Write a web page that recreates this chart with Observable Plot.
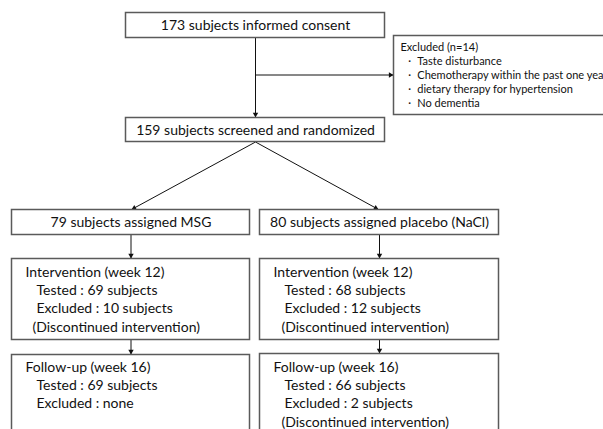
<!DOCTYPE html>
<html>
<head>
<meta charset="utf-8">
<script src="https://cdn.jsdelivr.net/npm/d3@7"></script>
<script src="https://cdn.jsdelivr.net/npm/@observablehq/plot@0.6"></script>
<style>
  html, body { margin: 0; padding: 0; background: #fff; overflow: hidden; }
  #chart svg { display: block; }
</style>
</head>
<body>
<div id="chart"></div>
<script>
// ---- content (labels) ----
const headerLabels = [
  "173 subjects informed consent",
  "159 subjects screened and randomized",
  "79 subjects assigned MSG",
  "80 subjects assigned placebo (NaCl)"
];
const excludedLabels = [
  "Excluded (n=14)",
  "・ Taste disturbance",
  "・ Chemotherapy within the past one year",
  "・ dietary therapy for hypertension",
  "・ No dementia"
];
const msgWeek12 = ["Intervention (week 12)", "Tested : 69 subjects", "Excluded : 10 subjects", "(Discontinued intervention)"];
const nacWeek12 = ["Intervention (week 12)", "Tested : 68 subjects", "Excluded : 12 subjects", "(Discontinued intervention)"];
const msgWeek16 = ["Follow-up (week 16)", "Tested : 69 subjects", "Excluded : none"];
const nacWeek16 = ["Follow-up (week 16)", "Tested : 66 subjects", "Excluded : 2 subjects", "(Discontinued intervention)"];

// ---- layout (diagram coordinates, 1 unit = 1 px) ----
const boxLayout = [
  {x1: 125.5, x2: 384.5, y1: 12.5, y2: 37.5},   // consent
  {x1: 393.5, x2: 640,   y1: 35.5, y2: 114.5},  // excluded
  {x1: 125.5, x2: 384.5, y1: 117.5, y2: 141.5}, // randomized
  {x1: 11.5,  x2: 249.5, y1: 209.5, y2: 234.5}, // MSG
  {x1: 259.5, x2: 498.5, y1: 209.5, y2: 234.5}, // NaCl
  {x1: 11.5,  x2: 249.5, y1: 258.5, y2: 339.5}, // MSG wk12
  {x1: 259.5, x2: 498.5, y1: 258.5, y2: 339.5}, // NaCl wk12
  {x1: 11.5,  x2: 249.5, y1: 354.5, y2: 460},   // MSG wk16
  {x1: 259.5, x2: 498.5, y1: 353.5, y2: 460}    // NaCl wk16
];
const headerPos = [[255, 25.5], [255, 130], [130.5, 222.5], [379, 222.5]];
const excludedX = [400, 403, 403, 403, 403];
const excludedY = [47, 61, 75, 89, 103];
const leftX = [25, 36, 36, 32], rightX = [273, 284, 284, 281];
const wk12Y = [272, 290, 308, 327], wk16Y = [367, 385, 403, 422];
const arrowLayout = [
  {x1: 255, y1: 37.5, x2: 255, y2: 117},
  {x1: 255, y1: 74.5, x2: 393, y2: 74.5},
  {x1: 255, y1: 141.5, x2: 131, y2: 209},
  {x1: 255, y1: 141.5, x2: 378, y2: 209},
  {x1: 130.5, y1: 234.5, x2: 130.5, y2: 258},
  {x1: 379, y1: 234.5, x2: 379, y2: 258},
  {x1: 130.5, y1: 339.5, x2: 130.5, y2: 354},
  {x1: 379, y1: 339.5, x2: 379, y2: 353}
];

// ---- tables built from the arrays ----
const headers = headerLabels.map((t, i) => ({text: t, x: headerPos[i][0], y: headerPos[i][1]}));
const excluded = excludedLabels.map((t, i) => ({text: t, x: excludedX[i], y: excludedY[i]}));
const body = [
  ...msgWeek12.map((t, i) => ({text: t, x: leftX[i], y: wk12Y[i]})),
  ...nacWeek12.map((t, i) => ({text: t, x: rightX[i], y: wk12Y[i]})),
  ...msgWeek16.map((t, i) => ({text: t, x: leftX[i], y: wk16Y[i]})),
  ...nacWeek16.map((t, i) => ({text: t, x: rightX[i], y: wk16Y[i]}))
];
const headLen = 3.1;
const heads = arrowLayout.map(a => {
  const dx = a.x2 - a.x1, dy = a.y2 - a.y1, L = Math.hypot(dx, dy);
  return {x: a.x2 - dx / L * headLen, y: a.y2 - dy / L * headLen,
          angle: Math.atan2(dx, -dy) * 180 / Math.PI};
});

const font = "Lato, 'Open Sans', sans-serif";
const chart = Plot.plot({
  width: 603, height: 429, margin: 0,
  style: {background: "#fff", fontFamily: font},
  x: {domain: [0, 603], range: [0, 603], axis: null},
  y: {domain: [0, 429], range: [0, 429], axis: null},
  marks: [
    Plot.link(arrowLayout, {x1: "x1", y1: "y1", x2: "x2", y2: "y2", stroke: "#111", strokeWidth: 1}),
    Plot.dot(heads, {x: "x", y: "y", symbol: "triangle", r: 2, fill: "#111", stroke: "none", rotate: "angle"}),
    Plot.rect(boxLayout, {x1: "x1", x2: "x2", y1: "y1", y2: "y2", fill: "#fff", stroke: "#5a5a5a", strokeWidth: 1.5}),
    Plot.text(headers, {x: "x", y: "y", text: "text", textAnchor: "middle", lineAnchor: "middle", fontSize: 14, fill: "#111"}),
    Plot.text(excluded, {x: "x", y: "y", text: "text", textAnchor: "start", lineAnchor: "middle", fontSize: 11, fill: "#111"}),
    Plot.text(body, {x: "x", y: "y", text: "text", textAnchor: "start", lineAnchor: "middle", fontSize: 14, fill: "#111"})
  ]
});
document.getElementById("chart").append(chart);
</script>
</body>
</html>
